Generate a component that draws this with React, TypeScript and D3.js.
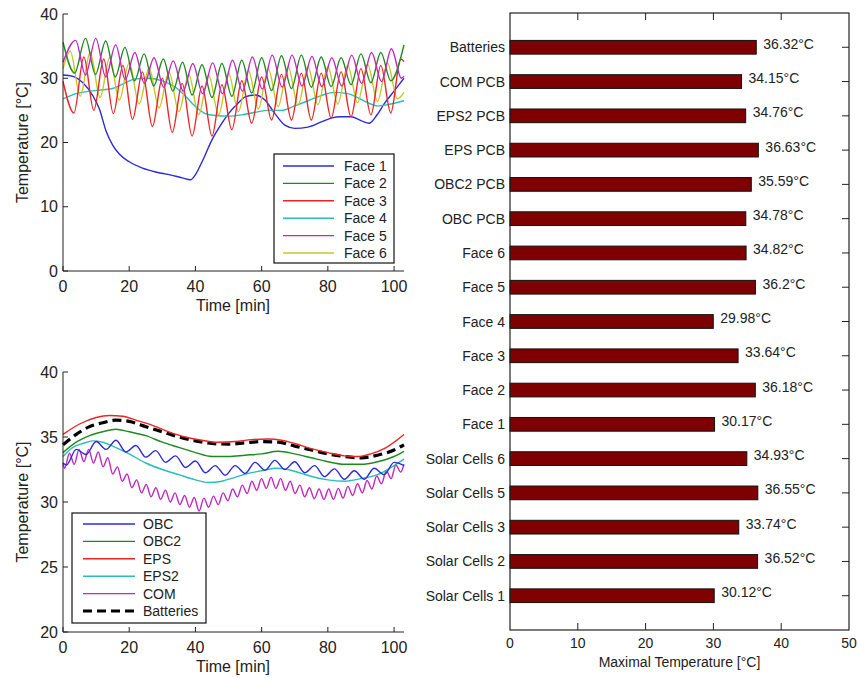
import React from "react";
import * as d3 from "d3";

type Pt = [number, number];

// ---------- Top plot: face temperatures (time [min], temp [°C]) ----------
const FACE1: Pt[] = [[0,30.5],[3,30.3],[6,29.3],[9,27.3],[11,25.2],[13,21.8],[15,19.6],[17,18.2],[20,17.0],[24,16.0],[28,15.4],[32,15.0],[36,14.5],[38.5,14.2],[40,15.0],[42,17.0],[45,20.4],[48,23.0],[50,24.5],[53,26.2],[55,27.1],[58,27.4],[61,26.6],[64,24.5],[67,22.7],[70,22.2],[74,22.4],[78,23.2],[81,23.8],[84,24.0],[87,24.0],[90,23.4],[92.5,23.0],[95,24.4],[97,26.0],[100,28.0],[103,30.0]];
const FACE2: Pt[] = [[0,35.6],[3.5,30.8],[6.8,36.2],[9.8,30.6],[12.9,35.8],[15.8,30.2],[18.7,34.8],[21.6,29.6],[24.5,33.8],[27.4,28.8],[30.3,33.0],[33.2,28.0],[36.1,32.5],[39.0,27.4],[42,32.1],[45,27.0],[48,32.3],[51,27.2],[54,32.8],[57,27.7],[60,33.2],[63,28.1],[66,33.5],[69,28.4],[72,33.6],[75,28.6],[78,33.3],[81,28.7],[84,33.2],[87,29.0],[90,33.8],[93,29.3],[96,34.0],[99,29.6],[103,35.2]];
const FACE3: Pt[] = [[0,29.5],[3.3,24.6],[6.3,33.3],[9.3,25.0],[12.3,33.0],[15.2,24.5],[18.1,32.0],[21.0,23.6],[24.0,31.0],[27.0,22.5],[30.0,30.0],[33.0,21.6],[36.0,29.2],[39.0,21.0],[42.0,28.8],[45.0,21.0],[48.0,29.0],[51.0,22.0],[54.0,29.6],[57.0,23.0],[60.0,30.2],[63.0,23.5],[66.0,30.6],[69.0,23.5],[72.0,30.8],[75.0,23.5],[78.0,30.8],[81.0,23.8],[84.0,31.0],[87.0,24.0],[90.0,31.5],[93.0,24.3],[96.0,32.0],[99.0,24.6],[102.0,33.0],[103,32.6]];
const FACE4: Pt[] = [[0,26.8],[4,27.6],[8,28.0],[12,28.2],[15,28.4],[18,29.1],[22,29.9],[26,30.0],[30,29.6],[34,28.6],[37,27.2],[40,25.6],[43,24.5],[46,24.2],[50,24.1],[54,24.3],[58,24.7],[62,25.0],[66,25.0],[70,25.7],[74,26.5],[78,27.3],[82,27.8],[86,27.6],[89,27.0],[92,26.2],[95,25.7],[99,26.0],[103,26.5]];
const FACE5: Pt[] = [[0,32.5],[3.8,35.9],[6.8,30.5],[9.9,36.2],[12.9,30.2],[15.9,35.2],[18.8,29.8],[21.7,34.0],[24.6,29.2],[27.5,33.2],[30.4,28.6],[33.3,32.7],[36.3,28.0],[39.2,32.3],[42.2,27.6],[45.2,32.4],[48.2,27.6],[51.2,32.8],[54.2,28.0],[57.2,33.3],[60.2,28.3],[63.2,33.6],[66.2,28.6],[69.2,33.6],[72.2,28.8],[75.2,33.4],[78.2,28.7],[81.2,33.2],[84.2,28.8],[87.2,33.6],[90.2,29.2],[93.2,34.0],[96.2,29.5],[99.2,34.6],[102.2,30.0],[103,30.3]];
const FACE6: Pt[] = [[0,31.5],[2.2,34.2],[5.2,27.2],[8.2,34.0],[11.2,27.0],[14.1,33.2],[17.0,26.6],[20.0,32.4],[23.0,26.0],[26.0,31.6],[29.0,25.4],[32.0,31.0],[35.0,24.8],[38.0,30.6],[41.0,24.3],[44.0,30.5],[47.0,24.3],[50.0,30.8],[53.0,24.8],[56.0,31.2],[59.0,25.2],[62.0,31.5],[65.0,25.6],[68.0,31.8],[71.0,25.8],[74.0,31.8],[77.0,25.9],[80.0,31.8],[83.0,26.0],[86.0,32.0],[89.0,26.2],[92.0,32.2],[95.0,26.4],[98.0,32.4],[101.0,26.8],[103,27.8]];

// ---------- Bottom plot: PCB / battery temperatures ----------
const OBC: Pt[] = [[0,33.0],[1,32.85],[4,34.05],[7,33.65],[10,34.65],[13,34.05],[16,34.75],[19,33.85],[22,34.35],[25,33.45],[28,33.95],[31,33.05],[34,33.55],[37,32.65],[40,33.15],[43,32.25],[46,32.8],[49,32.05],[52,32.8],[55,32.2],[58,33.05],[61,32.45],[64,33.2],[67,32.5],[70,33.1],[73,32.25],[76,32.8],[79,31.95],[82,32.55],[85,31.75],[88,32.4],[91,31.75],[94,32.6],[97,32.1],[100,33.05],[103,32.8]];
const OBC2: Pt[] = [[0,33.8],[4,34.6],[8,35.1],[12,35.4],[16,35.6],[20,35.4],[25,35.1],[30,34.6],[35,34.2],[40,33.8],[45,33.5],[50,33.5],[55,33.6],[60,33.7],[65,33.9],[70,33.7],[75,33.4],[80,33.1],[85,32.9],[90,32.9],[95,33.1],[100,33.5],[103,33.9]];
const EPS: Pt[] = [[0,35.2],[5,36.0],[10,36.5],[14,36.65],[18,36.6],[22,36.3],[27,35.9],[32,35.4],[37,35.0],[42,34.75],[47,34.6],[52,34.65],[57,34.8],[62,34.85],[66,34.75],[70,34.5],[75,34.1],[80,33.8],[85,33.55],[89,33.5],[93,33.7],[97,34.1],[100,34.6],[103,35.2]];
const EPS2: Pt[] = [[0,33.5],[3,34.2],[6,34.5],[9,34.7],[12,34.6],[15,34.3],[20,33.7],[25,33.0],[30,32.5],[35,32.1],[40,31.7],[44,31.5],[48,31.6],[52,31.9],[56,32.2],[60,32.4],[64,32.6],[68,32.5],[72,32.2],[76,31.9],[80,31.7],[85,31.6],[90,31.8],[95,32.1],[100,32.8],[103,33.3]];
const COM: Pt[] = [[0,33.0],[0.5,32.6],[1.95,33.75],[3.4,32.9],[4.85,34.05],[6.3,33.1],[7.75,34.05],[9.2,33.0],[10.65,33.85],[12.1,32.7],[13.55,33.4],[15.0,32.15],[16.45,32.7],[17.9,31.6],[19.35,32.15],[20.8,31.1],[22.25,31.7],[23.7,30.7],[25.15,31.35],[26.6,30.4],[28.05,31.1],[29.5,30.2],[30.95,30.9],[32.4,30.0],[33.85,30.7],[35.3,29.8],[36.75,30.5],[38.2,29.6],[39.65,30.35],[41.1,29.3],[42.55,30.3],[44.0,29.6],[45.45,30.45],[46.9,29.8],[48.35,30.7],[49.8,30.1],[51.25,31.0],[52.7,30.4],[54.15,31.3],[55.6,30.65],[57.05,31.6],[58.5,30.9],[59.95,31.8],[61.4,31.05],[62.85,31.9],[64.3,31.05],[65.75,31.8],[67.2,30.9],[68.65,31.6],[70.1,30.65],[71.55,31.3],[73.0,30.4],[74.45,31.1],[75.9,30.25],[77.35,31.0],[78.8,30.2],[80.25,31.0],[81.7,30.2],[83.15,31.05],[84.6,30.3],[86.05,31.2],[87.5,30.5],[88.95,31.4],[90.4,30.7],[91.85,31.65],[93.3,31.0],[94.75,32.0],[96.2,31.4],[97.65,32.4],[99.1,31.8],[100.55,32.85],[102.0,32.3],[103,32.9]];
const BATTERIES: Pt[] = [[0,34.4],[4,35.2],[8,35.8],[12,36.1],[16,36.3],[20,36.2],[25,35.8],[30,35.4],[35,35.0],[40,34.7],[45,34.5],[50,34.45],[55,34.55],[60,34.65],[65,34.6],[70,34.3],[75,34.0],[80,33.7],[85,33.5],[90,33.4],[95,33.6],[100,34.0],[103,34.4]];

const TIME_TICKS = [0, 20, 40, 60, 80, 100];
const TOP_Y_TICKS = [0, 10, 20, 30, 40];
const BOTTOM_Y_TICKS = [20, 25, 30, 35, 40];

// ---------- Bar chart: maximal temperatures ----------
const BAR_CATEGORIES = ["Batteries","COM PCB","EPS2 PCB","EPS PCB","OBC2 PCB","OBC PCB","Face 6","Face 5","Face 4","Face 3","Face 2","Face 1","Solar Cells 6","Solar Cells 5","Solar Cells 3","Solar Cells 2","Solar Cells 1"];
const BAR_VALUES = [36.32,34.15,34.76,36.63,35.59,34.78,34.82,36.2,29.98,33.64,36.18,30.17,34.93,36.55,33.74,36.52,30.12];
const BAR_TICKS = [0, 10, 20, 30, 40, 50];

const FONT = "'Liberation Sans', Arimo, Arial, sans-serif";
const TXT = "#222";

interface Series { name: string; data: Pt[]; color: string; width?: number; dash?: string; }

const TOP_SERIES: Series[] = [
  { name: "Face 1", data: FACE1, color: "#2b2bd6" },
  { name: "Face 2", data: FACE2, color: "#1e8a1e" },
  { name: "Face 3", data: FACE3, color: "#ee2424" },
  { name: "Face 4", data: FACE4, color: "#2cbcbc" },
  { name: "Face 5", data: FACE5, color: "#c028c0" },
  { name: "Face 6", data: FACE6, color: "#c6c625" },
];
const BOTTOM_SERIES: Series[] = [
  { name: "OBC", data: OBC, color: "#2b2bd6" },
  { name: "OBC2", data: OBC2, color: "#1e8a1e" },
  { name: "EPS", data: EPS, color: "#ee2424" },
  { name: "EPS2", data: EPS2, color: "#2cbcbc" },
  { name: "COM", data: COM, color: "#c028c0" },
  { name: "Batteries", data: BATTERIES, color: "#000", width: 3.2, dash: "9,5" },
];

interface LinePlotProps {
  series: Series[];
  yDomain: [number, number];
  yTicks: number[];
  top: number; bottom: number;
  legend: { x0: number; x1: number; y0: number; y1: number; firstY: number; step: number; lx0: number; lx1: number; tx: number };
  drawOrder: number[];
}

function LinePlot({ series, yDomain, yTicks, top, bottom, legend, drawOrder }: LinePlotProps) {
  const x = d3.scaleLinear().domain([0, 103]).range([63, 404]);
  const y = d3.scaleLinear().domain(yDomain).range([bottom, top]);
  const line = d3.line<Pt>().x(d => x(d[0])).y(d => y(d[1])).curve(d3.curveMonotoneX);
  const midY = (top + bottom) / 2;
  return (
    <g>
      {drawOrder.map(i => {
        const s = series[i];
        return <path key={s.name} d={line(s.data) || ""} fill="none" stroke={s.color}
          strokeWidth={s.width ?? 1.4} strokeDasharray={s.dash} strokeLinejoin="round" />;
      })}
      {/* axes */}
      <line x1={x(0)} x2={x(0)} y1={top} y2={bottom} stroke="#222" strokeWidth={1} />
      <line x1={x(0)} x2={x(103)} y1={bottom} y2={bottom} stroke="#222" strokeWidth={1} />
      {yTicks.map(t => (
        <g key={"y" + t}>
          <line x1={x(0)} x2={x(0) + 5} y1={y(t)} y2={y(t)} stroke="#222" />
          <text x={58} y={y(t)} textAnchor="end" dominantBaseline="central" fontSize={16} fill={TXT}>{t}</text>
        </g>
      ))}
      {TIME_TICKS.map(t => (
        <g key={"x" + t}>
          <line x1={x(t)} x2={x(t)} y1={bottom} y2={bottom - 5} stroke="#222" />
          <text x={x(t)} y={bottom + 21} textAnchor="middle" fontSize={16} fill={TXT}>{t}</text>
        </g>
      ))}
      <text x={233} y={bottom + 40} textAnchor="middle" fontSize={16} fill={TXT}>Time [min]</text>
      <text transform={`translate(22,${midY}) rotate(-90)`} textAnchor="middle" dominantBaseline="central" fontSize={16} fill={TXT}>Temperature [°C]</text>
      {/* legend */}
      <rect x={legend.x0} y={legend.y0} width={legend.x1 - legend.x0} height={legend.y1 - legend.y0} fill="#fff" stroke="#111" strokeWidth={1.2} />
      {series.map((s, i) => {
        const ly = legend.firstY + i * legend.step;
        return (
          <g key={"l" + s.name}>
            <line x1={legend.lx0} x2={legend.lx1} y1={ly} y2={ly} stroke={s.color} strokeWidth={s.width ?? 1.4} strokeDasharray={s.dash} />
            <text x={legend.tx} y={ly} dominantBaseline="central" fontSize={14} fill={TXT}>{s.name}</text>
          </g>
        );
      })}
    </g>
  );
}

function BarPlot() {
  const x = d3.scaleLinear().domain([0, 50]).range([510, 849]);
  const y = d3.scaleLinear().domain([0, 18]).range([630, 13]);
  const n = BAR_CATEGORIES.length;
  const bh = (y(0) - y(0.4));
  return (
    <g>
      {BAR_CATEGORIES.map((c, i) => {
        const pos = n - i;
        const v = BAR_VALUES[i];
        return (
          <g key={c}>
            <rect x={x(0)} y={y(pos) - bh / 2} width={x(v) - x(0)} height={bh} fill="#7f0000" stroke="#111" strokeWidth={1} />
            <text x={505} y={y(pos)} textAnchor="end" dominantBaseline="central" fontSize={14} fill={TXT}>{c}</text>
            <text x={x(v) + 7} y={y(pos) - 3.5} dominantBaseline="central" fontSize={14} fill={TXT}>{`${v}°C`}</text>
            <line x1={x(50)} x2={x(50) - 7} y1={y(pos)} y2={y(pos)} stroke="#222" />
          </g>
        );
      })}
      <rect x={x(0)} y={y(18)} width={x(50) - x(0)} height={y(0) - y(18)} fill="none" stroke="#222" strokeWidth={1.2} />
      {BAR_TICKS.map(t => (
        <g key={"bt" + t}>
          {t > 0 && t < 50 && <line x1={x(t)} x2={x(t)} y1={y(0)} y2={y(0) - 7} stroke="#222" />}
          {t > 0 && t < 50 && <line x1={x(t)} x2={x(t)} y1={y(18)} y2={y(18) + 7} stroke="#222" />}
          <text x={x(t)} y={648} textAnchor="middle" fontSize={14} fill={TXT}>{t}</text>
        </g>
      ))}
      <text x={(x(0) + x(50)) / 2} y={667} textAnchor="middle" fontSize={14} fill={TXT}>Maximal Temperature [°C]</text>
    </g>
  );
}

export default function App() {
  return (
    <svg width={858} height={678} viewBox="0 0 858 678"
      style={{ position: "absolute", left: 0, top: 0, display: "block", background: "#fff", fontFamily: FONT }}>
      <rect x={0} y={0} width={858} height={678} fill="#fff" />
      <LinePlot series={TOP_SERIES} yDomain={[0, 40]} yTicks={TOP_Y_TICKS} top={14} bottom={271}
        legend={{ x0: 274, x1: 394, y0: 154, y1: 263, firstY: 166, step: 17.4, lx0: 283, lx1: 334, tx: 344 }}
        drawOrder={[0, 3, 5, 2, 1, 4]} />
      <LinePlot series={BOTTOM_SERIES} yDomain={[20, 40]} yTicks={BOTTOM_Y_TICKS} top={372} bottom={632}
        legend={{ x0: 72, x1: 206, y0: 513, y1: 623, firstY: 524, step: 17.4, lx0: 83, lx1: 135, tx: 143 }}
        drawOrder={[4, 3, 0, 1, 5, 2]} />
      <BarPlot />
    </svg>
  );
}
